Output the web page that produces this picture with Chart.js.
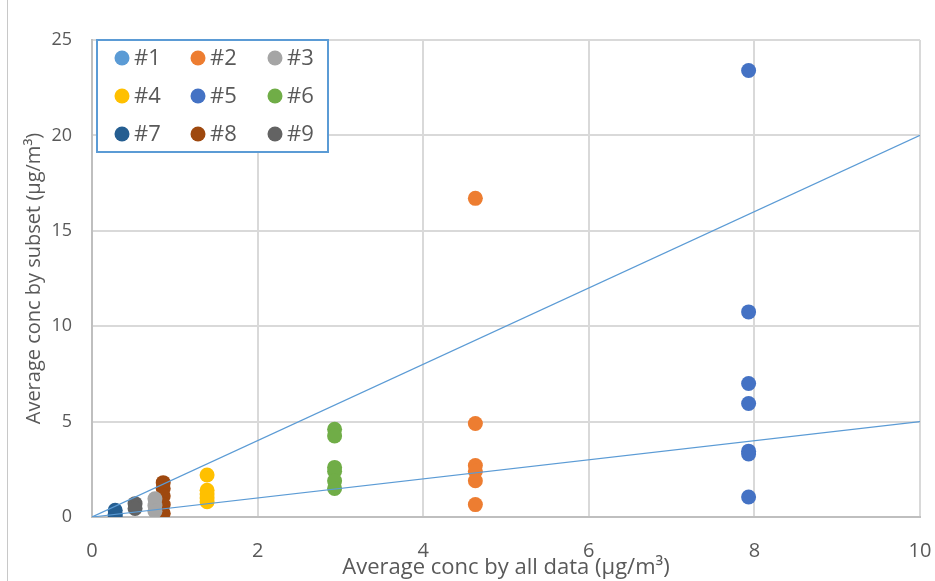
<!DOCTYPE html>
<html>
<head>
<meta charset="utf-8">
<script src="https://cdn.jsdelivr.net/npm/chart.js@4.4.1/dist/chart.umd.min.js"></script>
<style>
  html, body { margin: 0; padding: 0; background: #fff; }
  #wrap { position: relative; width: 935px; height: 581px; }
  #edge { position: absolute; left: 7px; top: 0; width: 1px; height: 581px; background: #c8c8c8; }
</style>
</head>
<body>
<div id="wrap">
  <canvas id="c" width="935" height="581"></canvas>
  <div id="edge"></div>
</div>
<script>
// series labels and colours (Office palette)
const labels = ["#1", "#2", "#3", "#4", "#5", "#6", "#7", "#8", "#9"];
const colors = ["#5B9BD5", "#ED7D31", "#A5A5A5", "#FFC000", "#4472C4", "#70AD47", "#255E91", "#9E480E", "#636363"];

// x position (average by all data) of each subset group
const groupX = [0.05, 4.63, 0.76, 1.39, 7.93, 2.93, 0.28, 0.86, 0.52];

// y values (average by subset) per group
const s1Y = [];
const s2Y = [16.7, 4.9, 2.7, 2.4, 1.9, 0.65];
const s3Y = [0.95, 0.6, 0.3];
const s4Y = [2.2, 1.4, 1.2, 1.0, 0.8];
const s5Y = [23.4, 10.75, 7.0, 5.95, 3.45, 3.3, 1.05];
const s6Y = [4.6, 4.25, 2.6, 2.4, 1.9, 1.5];
const s7Y = [0.35, 0.15, 0.0];
const s8Y = [1.8, 1.5, 1.1, 0.65, 0.2];
const s9Y = [0.7, 0.45];
const groupsY = [s1Y, s2Y, s3Y, s4Y, s5Y, s6Y, s7Y, s8Y, s9Y];

// reference lines y = 2x and y = 0.5x
const upperLine = [{ x: 0, y: 0 }, { x: 10, y: 20 }];
const lowerLine = [{ x: 0, y: 0 }, { x: 10, y: 5 }];

const xTicks = [0, 2, 4, 6, 8, 10];
const yTicks = [0, 5, 10, 15, 20, 25];

const TEXT = "#595959";

const datasets = labels.map((lab, i) => ({
  label: lab,
  data: groupsY[i].map(v => ({ x: groupX[i], y: v })),
  backgroundColor: colors[i],
  borderColor: colors[i],
  borderWidth: 0,
  pointRadius: 7.5,
  pointHoverRadius: 7.5,
  order: 2,
}));

[upperLine, lowerLine].forEach((pts, k) => {
  datasets.push({
    label: "ref" + k,
    type: "line",
    data: pts,
    borderColor: "#5B9BD5",
    borderWidth: 1.2,
    pointRadius: 0,
    fill: false,
    order: 1,
  });
});

// legend box inside the plot area, 3 x 3 grid
const boxLegend = {
  id: "boxLegend",
  afterDraw(chart) {
    const ctx = chart.ctx;
    ctx.save();
    ctx.fillStyle = "#fff";
    ctx.fillRect(97, 40, 231, 112);
    ctx.strokeStyle = "#5B9BD5";
    ctx.lineWidth = 2;
    ctx.strokeRect(97, 40, 231, 112);
    const colX = [122, 198, 275];
    const rowY = [58, 96, 134];
    ctx.font = "22px 'Liberation Sans Narrow', 'Open Sans', sans-serif";
    ctx.textBaseline = "middle";
    labels.forEach((lab, i) => {
      const cx = colX[i % 3], cy = rowY[Math.floor(i / 3)];
      ctx.beginPath();
      ctx.arc(cx, cy, 7.5, 0, Math.PI * 2);
      ctx.fillStyle = colors[i];
      ctx.fill();
      ctx.fillStyle = TEXT;
      ctx.fillText(lab, cx + 12, cy + 1);
    });
    ctx.restore();
  }
};

new Chart(document.getElementById("c"), {
  type: "scatter",
  data: { datasets },
  plugins: [boxLegend],
  options: {
    responsive: false,
    animation: false,
    layout: { padding: { left: 22, top: 40, right: 15, bottom: 0 } },
    plugins: { legend: { display: false }, tooltip: { enabled: false } },
    scales: {
      x: {
        type: "linear",
        min: 0, max: 10,
        afterBuildTicks: s => { s.ticks = xTicks.map(v => ({ value: v })); },
        afterFit: s => { s.height = 64; s.paddingLeft = 0; s.paddingRight = 0; },
        grid: { color: "#D9D9D9", lineWidth: 2, drawTicks: false },
        border: { color: "#BFBFBF", width: 2 },
        ticks: { color: TEXT, padding: 22, font: { family: "'Liberation Sans Narrow', 'Open Sans', sans-serif", size: 20 } },
        title: {
          display: true,
          text: "Average conc by all data (\u03bcg/m\u00b3)",
          color: TEXT,
          padding: { top: 0, bottom: 0 },
          font: { family: "'Liberation Sans Narrow', 'Open Sans', sans-serif", size: 22 },
        },
      },
      y: {
        type: "linear",
        min: 0, max: 25,
        afterBuildTicks: s => { s.ticks = yTicks.map(v => ({ value: v })); },
        afterFit: s => { s.width = 70; s.paddingTop = 0; s.paddingBottom = 0; },
        grid: { color: "#D9D9D9", lineWidth: 2, drawTicks: false },
        border: { color: "#BFBFBF", width: 2 },
        ticks: { color: TEXT, padding: 20, font: { family: "'Open Sans', sans-serif", size: 18 } },
        title: {
          display: true,
          text: "Average conc by subset (\u03bcg/m\u00b3)",
          color: TEXT,
          padding: { top: 0, bottom: 0 },
          font: { family: "'Open Sans', sans-serif", size: 20 },
        },
      },
    },
  },
});
</script>
</body>
</html>
